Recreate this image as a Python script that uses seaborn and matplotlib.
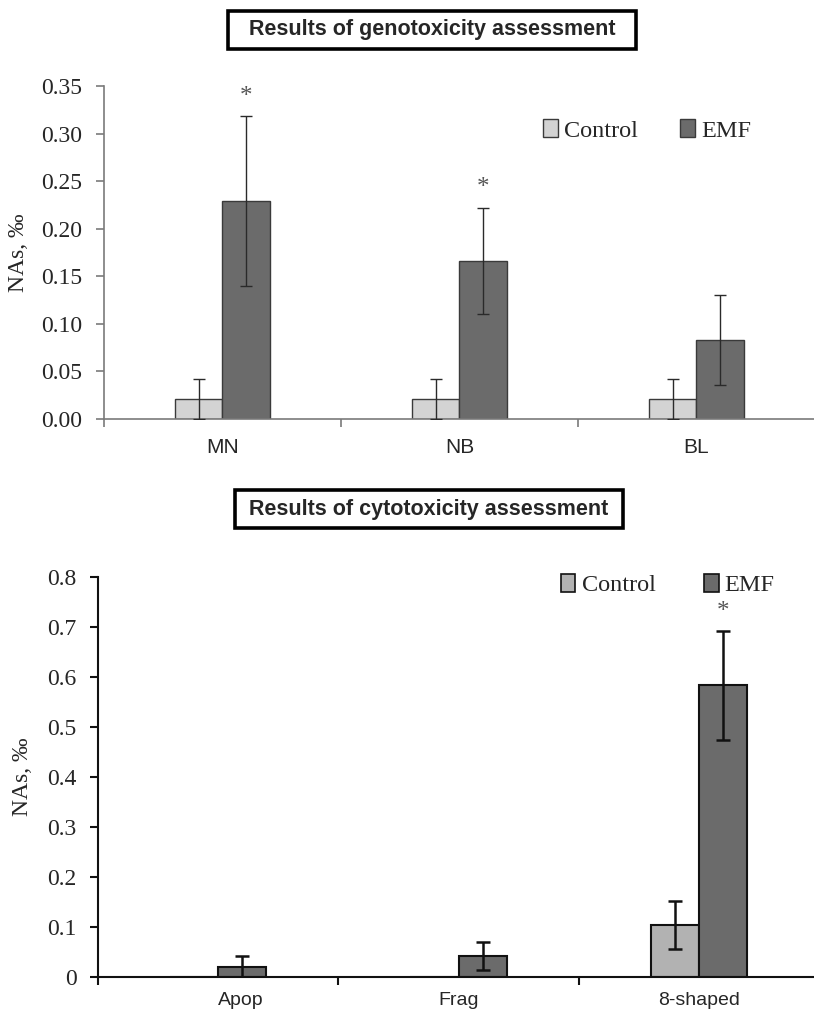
import matplotlib
matplotlib.use("Agg")
import matplotlib.pyplot as plt
import matplotlib.ticker as mticker
from matplotlib.patches import Patch
import numpy as np
import pandas as pd
import seaborn as sns

# ---- data -------------------------------------------------------------
groups = ["Control", "EMF"]

geno_categories = ["MN", "NB", "BL"]
geno_control = [0.021, 0.021, 0.021]
geno_control_err = [0.021, 0.021, 0.021]
geno_emf = [0.229, 0.166, 0.083]
geno_emf_err = [0.089, 0.056, 0.047]
geno_significant = [True, True, False]

cyto_categories = ["Apop", "Frag", "8-shaped"]
cyto_control = [0.0, 0.0, 0.105]
cyto_control_err = [0.0, 0.0, 0.048]
cyto_emf = [0.021, 0.042, 0.584]
cyto_emf_err = [0.021, 0.028, 0.109]
cyto_significant = [False, False, True]

geno_yticks = [0.00, 0.05, 0.10, 0.15, 0.20, 0.25, 0.30, 0.35]
cyto_yticks = [0.0, 0.1, 0.2, 0.3, 0.4, 0.5, 0.6, 0.7, 0.8]

# ---- style ------------------------------------------------------------
sns.set_style("white")
plt.rcParams["font.family"] = ["Liberation Serif", "DejaVu Serif"]

W, H = 814, 1013
fig = plt.figure(figsize=(W / 100, H / 100), dpi=100)

SERIF = ["Liberation Serif", "DejaVu Serif"]
SANS = ["Liberation Sans", "DejaVu Sans"]


def panel(ax, cats, ctrl, ctrl_err, emf, emf_err, signif, palette,
          axis_color, axis_lw, bar_edge, bar_lw, err_color, err_lw, cap,
          star_offset, xlabel_pad, xlabel_size):
    df = pd.DataFrame({
        "Category": cats * 2,
        "Group": [groups[0]] * len(cats) + [groups[1]] * len(cats),
        "Value": ctrl + emf,
    })
    sns.barplot(data=df, x="Category", y="Value", hue="Group",
                order=cats, hue_order=groups, palette=palette,
                width=0.4, errorbar=None, saturation=1,
                edgecolor=bar_edge, linewidth=bar_lw, legend=False, ax=ax)

    for container, errs in zip(ax.containers, [ctrl_err, emf_err]):
        for bar, e in zip(container, errs):
            if e <= 0:
                continue
            xc = bar.get_x() + bar.get_width() / 2
            ax.errorbar(xc, bar.get_height(), yerr=e, fmt="none",
                        ecolor=err_color, elinewidth=err_lw,
                        capsize=cap, capthick=err_lw, zorder=4)

    # significance marks above the EMF bars
    for bar, e, s in zip(ax.containers[1], emf_err, signif):
        if not s:
            continue
        xc = bar.get_x() + bar.get_width() / 2
        ax.annotate("*", xy=(xc, bar.get_height() + e),
                    xytext=(0, star_offset), textcoords="offset points",
                    ha="center", va="center", fontsize=18,
                    family=SERIF, color="#555555")

    ax.set_xlim(-0.5, len(cats) - 0.5)
    ax.set_xlabel("")
    ax.set_ylabel("NAs, \u2030", family=SERIF, fontsize=17)

    for side in ["top", "right"]:
        ax.spines[side].set_visible(False)
    for side in ["left", "bottom"]:
        ax.spines[side].set_color(axis_color)
        ax.spines[side].set_linewidth(axis_lw)

    # category boundaries carry the tick marks, labels sit at the centres
    ax.set_xticks(np.arange(len(cats)))
    ax.set_xticklabels(cats, family=SANS, fontsize=xlabel_size)
    ax.set_xticks(np.arange(len(cats)) - 0.5, minor=True)
    ax.tick_params(axis="x", which="major", length=0, pad=xlabel_pad)
    ax.tick_params(axis="x", which="minor", length=6, width=axis_lw,
                   color=axis_color, direction="out", bottom=True)
    ax.tick_params(axis="y", which="major", length=5.5, width=axis_lw,
                   color=axis_color, direction="out", left=True, pad=10,
                   labelsize=17)
    for lab in ax.get_yticklabels():
        lab.set_family(SERIF)


# ---- genotoxicity panel ----------------------------------------------
ax1 = fig.add_axes([104 / W, 1 - 419 / H, 711 / W, 333 / H])
panel(ax1, geno_categories, geno_control, geno_control_err, geno_emf,
      geno_emf_err, geno_significant, ["#d3d3d3", "#6b6b6b"],
      axis_color="#7a7a7a", axis_lw=1.2, bar_edge="#3a3a3a", bar_lw=1.0,
      err_color="#2a2a2a", err_lw=1.0, cap=4, star_offset=14,
      xlabel_pad=14, xlabel_size=15)
ax1.set_ylim(0, 0.35)
ax1.set_yticks(geno_yticks)
ax1.yaxis.set_major_formatter(mticker.FormatStrFormatter("%.2f"))
ax1.yaxis.set_label_coords(-0.106, 0.5)

leg_handles = [Patch(facecolor=c, edgecolor="#3a3a3a", linewidth=1.0)
               for c in ["#d3d3d3", "#6b6b6b"]]
ax1.legend(leg_handles, groups, loc="center left",
           bbox_to_anchor=(0.618, 0.866), ncol=2, frameon=False,
           handlelength=0.6, handleheight=0.75, handletextpad=0.25,
           columnspacing=1.75, borderpad=0, borderaxespad=0,
           prop={"family": SERIF, "size": 17.5})

# ---- cytotoxicity panel ----------------------------------------------
ax2 = fig.add_axes([98 / W, 1 - 977 / H, 721 / W, 400 / H])
panel(ax2, cyto_categories, cyto_control, cyto_control_err, cyto_emf,
      cyto_emf_err, cyto_significant, ["#b2b2b2", "#6b6b6b"],
      axis_color="#111111", axis_lw=1.5, bar_edge="#111111", bar_lw=1.5,
      err_color="#111111", err_lw=1.8, cap=5, star_offset=13,
      xlabel_pad=11, xlabel_size=14)
ax2.set_ylim(0, 0.8)
ax2.set_yticks(cyto_yticks)
ax2.yaxis.set_major_formatter(
    mticker.FuncFormatter(lambda v, _: "0" if abs(v) < 1e-9 else f"{v:.1f}"))
ax2.yaxis.set_label_coords(-0.09, 0.5)
ax2.get_xticklabels()[0].set_horizontalalignment("left")

leg_handles2 = [Patch(facecolor=c, edgecolor="#111111", linewidth=1.2)
                for c in ["#b2b2b2", "#6b6b6b"]]
ax2.legend(leg_handles2, groups, loc="center left",
           bbox_to_anchor=(0.642, 0.98), ncol=2, frameon=False,
           handlelength=0.6, handleheight=0.75, handletextpad=0.25,
           columnspacing=2.0, borderpad=0, borderaxespad=0,
           prop={"family": SERIF, "size": 17.5})

# ---- boxed panel titles ----------------------------------------------
box = dict(boxstyle="square,pad=0.4", facecolor="white",
           edgecolor="black", linewidth=2.6)
fig.text(432 / W, 1 - 30 / H, "  Results of genotoxicity assessment  ",
         ha="center", va="center", fontsize=15.5, fontweight="bold",
         family=SANS, bbox=box)
fig.text(429 / W, 1 - 509 / H, " Results of cytotoxicity assessment ",
         ha="center", va="center", fontsize=15.5, fontweight="bold",
         family=SANS, bbox=box)

fig.savefig("out.png", dpi=100, facecolor="white")
